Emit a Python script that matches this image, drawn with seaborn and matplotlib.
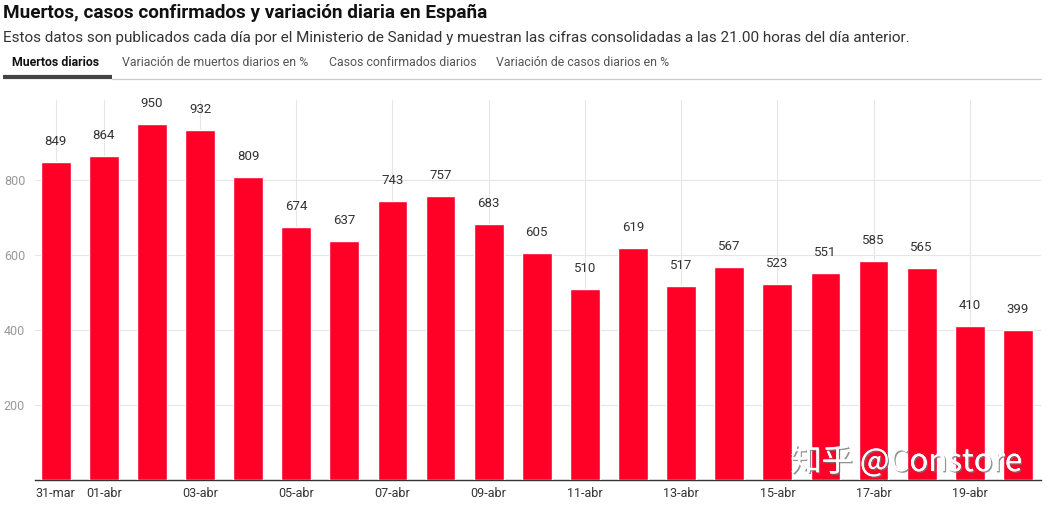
import matplotlib
matplotlib.use("Agg")
import matplotlib.pyplot as plt
import matplotlib.patheffects as pe
import seaborn as sns
import pandas as pd

fechas = ["31-mar", "01-abr", "02-abr", "03-abr", "04-abr", "05-abr", "06-abr",
          "07-abr", "08-abr", "09-abr", "10-abr", "11-abr", "12-abr", "13-abr",
          "14-abr", "15-abr", "16-abr", "17-abr", "18-abr", "19-abr", "20-abr"]
muertos = [849, 864, 950, 932, 809, 674, 637, 743, 757, 683, 605, 510, 619,
           517, 567, 523, 551, 585, 565, 410, 399]
etiquetas_x = ["31-mar", "01-abr", "03-abr", "05-abr", "07-abr", "09-abr",
               "11-abr", "13-abr", "15-abr", "17-abr", "19-abr"]
ticks_y = [200, 400, 600, 800]
pestanas = ["Muertos diarios", "Variación de muertos diarios en %",
            "Casos confirmados diarios", "Variación de casos diarios en %"]

titulo = "Muertos, casos confirmados y variación diaria en España"
subtitulo = ("Estos datos son publicados cada día por el Ministerio de Sanidad y "
             "muestran las cifras consolidadas a las 21.00 horas del día anterior.")

sns.set_theme(style="white")
plt.rcParams['font.family'] = ['Roboto', 'DejaVu Sans']

df = pd.DataFrame({"fecha": fechas, "muertos": muertos})

W, H = 1051, 508
fig = plt.figure(figsize=(W / 100, H / 100), dpi=100)
ax = fig.add_axes([35 / W, (H - 480) / H, (1041 - 35) / W, (480 - 100) / H])

sns.barplot(data=df, x="fecha", y="muertos", color="#FF0027", width=0.62,
            saturation=1, ax=ax, zorder=3)

for i, v in enumerate(muertos):
    ax.annotate(str(v), (i, v), xytext=(0, 10), textcoords="offset points",
                ha="center", va="bottom", fontsize=9.5, color="#333333")

ax.set_xlim(-0.43, 20.48)
ax.set_ylim(0, 1013)
ax.set_yticks(ticks_y)
ax.set_yticklabels([str(t) for t in ticks_y])
pos_x = [fechas.index(e) for e in etiquetas_x]
ax.set_xticks(pos_x)
ax.set_xticklabels(etiquetas_x)
ax.set_xlabel("")
ax.set_ylabel("")
ax.grid(True, color="#E6E6E6", linewidth=0.8, zorder=0)
ax.set_axisbelow(True)
for s in ["top", "right", "left"]:
    ax.spines[s].set_visible(False)
ax.spines["bottom"].set_color("#333333")
ax.spines["bottom"].set_linewidth(1.0)
ax.tick_params(axis="x", length=0, pad=5, labelsize=9, labelcolor="#333333")
ax.tick_params(axis="y", length=0, pad=0, labelsize=9, labelcolor="#999999")
for lbl in ax.get_yticklabels():
    lbl.set_horizontalalignment("left")
    lbl.set_x(-0.031)

# Title and subtitle
fig.text(3 / W, 1 - 13 / H, titulo, fontsize=13.6, fontweight="bold",
         color="#111111", va="center", ha="left")
fig.text(3 / W, 1 - 38 / H, subtitulo, fontsize=11.0, color="#333333",
         va="center", ha="left")

# Tabs
tab_x = [12, 122, 329, 496]
for j, (tx, t) in enumerate(zip(tab_x, pestanas)):
    fig.text(tx / W, 1 - 63 / H, t, fontsize=8.9,
             fontweight="bold" if j == 0 else "normal",
             color="#111111" if j == 0 else "#555555", va="center", ha="left")
fig.add_artist(plt.Line2D([112 / W, 1041 / W], [1 - 79 / H, 1 - 79 / H],
                          color="#CCCCCC", linewidth=0.9, transform=fig.transFigure))
fig.add_artist(plt.Line2D([3 / W, 112 / W], [1 - 77 / H, 1 - 77 / H],
                          color="#444444", linewidth=3, transform=fig.transFigure,
                          solid_capstyle="butt"))

# Watermark
fig.text(1022 / W, 1 - 462 / H, "知乎 @Constore", fontsize=22.5, color="white",
         ha="right", va="center", family=['Noto Sans CJK SC', 'DejaVu Sans'],
         path_effects=[pe.withSimplePatchShadow(offset=(1, -1), shadow_rgbFace="#777777", alpha=0.8), pe.Normal()])

fig.savefig("out.png", dpi=100)
